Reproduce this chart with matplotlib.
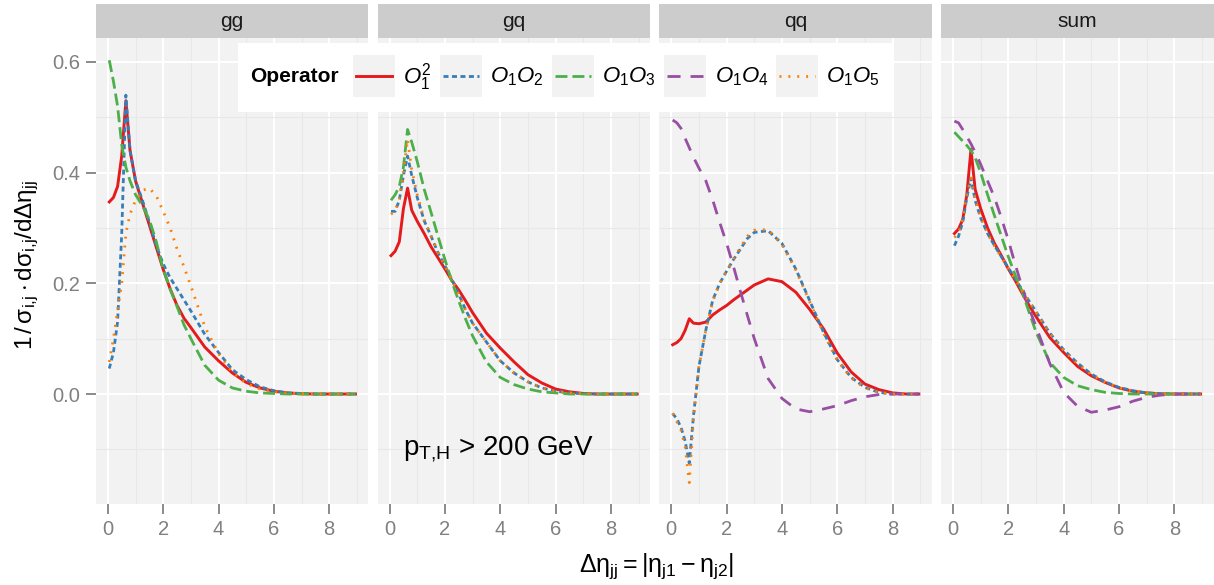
import matplotlib
matplotlib.use("Agg")
import matplotlib.pyplot as plt
from matplotlib.patches import Rectangle
from matplotlib.lines import Line2D

plt.rcParams['font.family'] = ['Liberation Sans', 'DejaVu Sans']
plt.rcParams['mathtext.fontset'] = 'custom'
plt.rcParams['mathtext.rm'] = 'Liberation Sans'
plt.rcParams['mathtext.it'] = 'Liberation Sans:italic'
plt.rcParams['mathtext.bf'] = 'Liberation Sans:bold'
plt.rcParams['lines.scale_dashes'] = False

# ---------------- data ----------------
X = [0.05, 0.2, 0.35, 0.5, 0.65, 0.8, 1.0, 1.25, 1.5, 1.75, 2.0, 2.25, 2.5, 2.75,
     3.0, 3.5, 4.0, 4.5, 5.0, 5.5, 6.0, 6.5, 7.0, 7.5, 8.0, 8.5, 8.95]

panels = ['gg', 'gq', 'qq', 'sum']
operators = ['$O_1^2$', '$O_1O_2$', '$O_1O_3$', '$O_1O_4$', '$O_1O_5$']

gg_O1sq = [0.347, 0.355, 0.375, 0.43, 0.53, 0.44, 0.385, 0.345, 0.305, 0.265, 0.225, 0.19, 0.16, 0.137,
           0.12, 0.085, 0.06, 0.038, 0.021, 0.011, 0.005, 0.002, 0.0005, 0, 0, 0, 0]
gg_O1O2 = [0.046, 0.075, 0.13, 0.29, 0.54, 0.44, 0.385, 0.35, 0.31, 0.268, 0.235, 0.21, 0.19, 0.17,
           0.15, 0.108, 0.075, 0.044, 0.026, 0.013, 0.006, 0.002, 0.001, 0, 0, 0, 0]
gg_O1O3 = [0.603, 0.565, 0.52, 0.45, 0.41, 0.385, 0.36, 0.34, 0.315, 0.275, 0.225, 0.19, 0.158, 0.125,
           0.1, 0.052, 0.025, 0.011, 0.005, 0.002, 0.001, 0, 0, 0, 0, 0, 0]
gg_O1O4 = None
gg_O1O5 = [0.058, 0.1, 0.15, 0.2, 0.29, 0.325, 0.35, 0.368, 0.372, 0.358, 0.33, 0.3, 0.262, 0.23,
           0.195, 0.122, 0.073, 0.039, 0.019, 0.009, 0.004, 0.002, 0.0005, 0, 0, 0, 0]

gq_O1sq = [0.25, 0.258, 0.275, 0.335, 0.372, 0.332, 0.312, 0.29, 0.266, 0.246, 0.226, 0.205, 0.188, 0.168,
           0.147, 0.11, 0.083, 0.058, 0.035, 0.02, 0.009, 0.004, 0.001, 0, 0, 0, 0]
gq_O1O2 = [0.33, 0.33, 0.35, 0.395, 0.43, 0.395, 0.355, 0.313, 0.285, 0.255, 0.232, 0.207, 0.18, 0.152,
           0.128, 0.094, 0.06, 0.038, 0.022, 0.011, 0.005, 0.002, 0.0005, 0, 0, 0, 0]
gq_O1O3 = [0.35, 0.36, 0.375, 0.41, 0.478, 0.455, 0.42, 0.37, 0.328, 0.285, 0.243, 0.203, 0.168, 0.135,
           0.105, 0.058, 0.03, 0.017, 0.009, 0.004, 0.002, 0, 0, 0, 0, 0, 0]
gq_O1O4 = None
gq_O1O5 = [0.325, 0.33, 0.352, 0.4, 0.46, 0.405, 0.36, 0.315, 0.286, 0.256, 0.232, 0.207, 0.18, 0.152,
           0.128, 0.094, 0.06, 0.038, 0.022, 0.011, 0.005, 0.002, 0.0005, 0, 0, 0, 0]

qq_O1sq = [0.089, 0.093, 0.1, 0.115, 0.136, 0.128, 0.127, 0.13, 0.143, 0.152, 0.16, 0.17, 0.179, 0.188,
           0.197, 0.208, 0.203, 0.184, 0.153, 0.118, 0.074, 0.04, 0.018, 0.008, 0.002, 0, 0]
qq_O1O2 = [-0.035, -0.045, -0.06, -0.085, -0.125, -0.04, 0.05, 0.116, 0.17, 0.2, 0.222, 0.243, 0.262, 0.281,
           0.292, 0.295, 0.272, 0.226, 0.169, 0.112, 0.062, 0.03, 0.012, 0.003, 0, 0, 0]
qq_O1O3 = None
qq_O1O4 = [0.495, 0.49, 0.48, 0.462, 0.445, 0.428, 0.408, 0.385, 0.35, 0.31, 0.272, 0.23, 0.185, 0.142,
           0.1, 0.028, -0.008, -0.027, -0.032, -0.027, -0.021, -0.012, -0.005, -0.001, 0, 0, 0]
qq_O1O5 = [-0.035, -0.05, -0.065, -0.095, -0.16, -0.045, 0.05, 0.116, 0.168, 0.2, 0.222, 0.244, 0.265, 0.285,
           0.296, 0.297, 0.27, 0.224, 0.167, 0.11, 0.061, 0.029, 0.011, 0.003, 0, 0, 0]

sum_O1sq = [0.29, 0.298, 0.315, 0.36, 0.442, 0.37, 0.335, 0.3, 0.272, 0.25, 0.226, 0.205, 0.182, 0.16,
            0.14, 0.102, 0.075, 0.05, 0.033, 0.021, 0.011, 0.005, 0.002, 0.0005, 0, 0, 0]
sum_O1O2 = [0.268, 0.285, 0.31, 0.355, 0.39, 0.35, 0.318, 0.29, 0.268, 0.248, 0.228, 0.208, 0.188, 0.168,
            0.149, 0.11, 0.08, 0.056, 0.036, 0.022, 0.012, 0.006, 0.002, 0.0005, 0, 0, 0]
sum_O1O3 = [0.473, 0.465, 0.457, 0.449, 0.44, 0.427, 0.4, 0.36, 0.322, 0.285, 0.248, 0.215, 0.185, 0.148,
            0.112, 0.057, 0.03, 0.015, 0.008, 0.003, 0.001, 0, 0, 0, 0, 0, 0]
sum_O1O4 = [0.493, 0.49, 0.478, 0.465, 0.452, 0.437, 0.415, 0.385, 0.355, 0.318, 0.278, 0.234, 0.193, 0.155,
            0.122, 0.055, 0.003, -0.022, -0.033, -0.029, -0.023, -0.013, -0.006, -0.002, 0, 0, 0]
sum_O1O5 = [0.283, 0.29, 0.315, 0.36, 0.39, 0.352, 0.32, 0.29, 0.267, 0.247, 0.227, 0.207, 0.187, 0.167,
            0.148, 0.109, 0.079, 0.055, 0.035, 0.021, 0.011, 0.005, 0.002, 0.0005, 0, 0, 0]

series = {
    'gg': [gg_O1sq, gg_O1O2, gg_O1O3, gg_O1O4, gg_O1O5],
    'gq': [gq_O1sq, gq_O1O2, gq_O1O3, gq_O1O4, gq_O1O5],
    'qq': [qq_O1sq, qq_O1O2, qq_O1O3, qq_O1O4, qq_O1O5],
    'sum': [sum_O1sq, sum_O1O2, sum_O1O3, sum_O1O4, sum_O1O5],
}

# ---------------- style ----------------
colors = ['#E41A1C', '#377EB8', '#4DAF4A', '#984EA3', '#FF7F00']
dashes = [None, (0, (3.6, 2.5)), (0, (8.6, 3.6)), (0, (9.4, 7.2)), (0, (1.4, 5.0))]
lws = [2.1, 2.0, 2.0, 2.0, 2.0]

W, H = 1214, 585
fig = plt.figure(figsize=(W / 100, H / 100), dpi=100)


def fx(p):
    return p / W


def fy(p):
    return 1 - p / H


lefts = [96, 377.7, 659.4, 941.1]
pw = 272.5
top_px, bot_px = 38, 504
strip_h = 34
bg = '#F2F2F2'
tick_col = '#8A8A8A'

axes = []
for i, name in enumerate(panels):
    ax = fig.add_axes([fx(lefts[i]), fy(bot_px), pw / W, (bot_px - top_px) / H])
    ax.set_facecolor(bg)
    ax.set_xlim(-0.43, 9.42)
    ax.set_ylim(-0.1987, 0.6432)
    ax.set_xticks([0, 2, 4, 6, 8])
    ax.set_xticks([1, 3, 5, 7, 9], minor=True)
    ax.set_yticks([0.0, 0.2, 0.4, 0.6])
    ax.set_yticks([-0.1, 0.1, 0.3, 0.5], minor=True)
    ax.grid(which='major', color='white', linewidth=1.5)
    ax.grid(which='minor', color='#E8E8E8', linewidth=0.8)
    ax.set_axisbelow(True)
    for s in ax.spines.values():
        s.set_visible(False)
    ax.tick_params(which='major', length=7.5, width=1.4, color=tick_col,
                   labelcolor='#808080', labelsize=14.5, pad=4)
    ax.tick_params(which='minor', length=0)
    ax.set_xticklabels(['0', '2', '4', '6', '8'])
    if i == 0:
        ax.set_yticklabels(['0.0', '0.2', '0.4', '0.6'])
    else:
        ax.tick_params(axis='y', which='major', length=0, labelleft=False)
    for k in range(5):
        ys = series[name][k]
        if ys is None:
            continue
        ln, = ax.plot(X, ys, color=colors[k], lw=lws[k], solid_joinstyle='round')
        if dashes[k] is not None:
            ln.set_linestyle(dashes[k])
            ln.set_dash_capstyle('butt')
    # strip
    frac = strip_h / (bot_px - top_px)
    ax.add_patch(Rectangle((0, 1), 1, frac, transform=ax.transAxes, facecolor='#CCCCCC',
                           edgecolor='none', clip_on=False))
    ax.text(0.5, 1 + frac / 2, name, transform=ax.transAxes, ha='center', va='center',
            fontsize=15, color='#1A1A1A')
    axes.append(ax)

axes[1].text(3.95, -0.1, r'$\mathrm{p_{T{,}H}}$ > 200 GeV', ha='center', va='center', fontsize=20,
             color='black')

# axis labels
fig.text(fx(27), fy(265), r'$\mathrm{1\,/\,\sigma_{i{,}j}\cdot d\sigma_{i{,}j}/d\Delta\eta_{jj}}$',
         rotation=90, ha='center', va='center', fontsize=17.5)
fig.text(fx(656), fy(566), r'$\mathrm{\Delta\eta_{jj} = |\eta_{j1} - \eta_{j2}|}$',
         ha='center', va='center', fontsize=18)

# legend (drawn in figure pixels)
leg_box = Rectangle((fx(238), fy(112)), fx(893) - fx(238), fy(43) - fy(112),
                    transform=fig.transFigure, facecolor='white', edgecolor='none', zorder=5)
fig.add_artist(leg_box)
fig.text(fx(250), fy(77), 'Operator', fontweight='bold', fontsize=15, ha='left', va='center',
         zorder=8)
key_l = [352.7, 439.5, 551.8, 663.6, 775.5]
key_w = 42
lab_x = [403, 490, 602, 715, 826]
for k in range(5):
    fig.add_artist(Rectangle((fx(key_l[k]), fy(97)), key_w / W, 42 / H, transform=fig.transFigure,
                             facecolor='#F2F2F2', edgecolor='none', zorder=6))
    ln = Line2D([fx(key_l[k] + 3), fx(key_l[k] + key_w - 3)], [fy(76), fy(76)],
                transform=fig.transFigure, color=colors[k], lw=lws[k], zorder=7)
    if dashes[k] is not None:
        ln.set_linestyle(dashes[k])
        ln.set_dash_capstyle('butt')
    fig.add_artist(ln)
    fig.text(fx(lab_x[k]), fy(77), operators[k], fontsize=16, ha='left', va='center', zorder=8)

fig.savefig('out.png', dpi=100)
